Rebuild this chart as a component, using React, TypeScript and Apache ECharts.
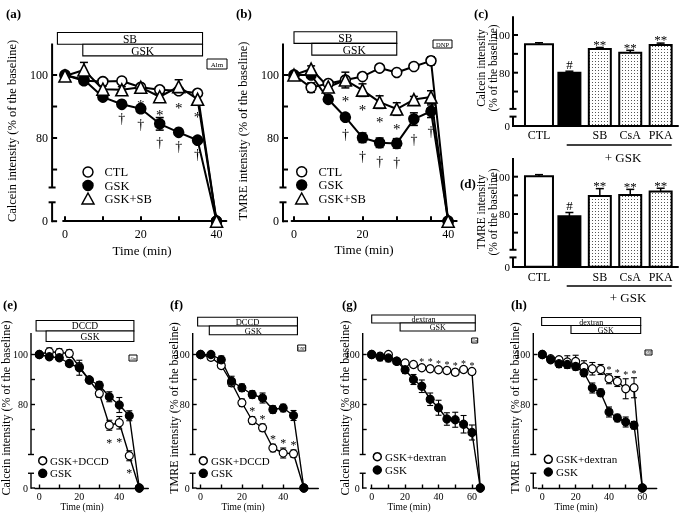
import { useEffect, useRef } from 'react';
import * as echarts from 'echarts';

const FONT = '"Liberation Serif", "Times New Roman", Times, serif';

// ---------- (a) calcein, SB ----------
const timeA = [0, 5, 10, 15, 20, 25, 30, 35, 40];
const ctlA = [100, 98.2, 97.9, 98.1, 96.1, 95.3, 95.0, 94.2, 0];
const ctlAErr = [0, 0.8, 0.8, 0.8, 0.8, 0.8, 0.8, 0.8, 0];
const gskA = [100, 98.5, 93.0, 90.7, 89.3, 84.5, 81.8, 79.3, 0];
const gskAErr = [0, 0.8, 0.8, 0.8, 1.2, 2.0, 0.8, 0.8, 0];
const gskSbA = [99.7, 101.6, 95.5, 95.3, 96.1, 93.1, 96.3, 92.3, 0];
const gskSbAErr = [0, 2.4, 1.0, 1.0, 1.0, 1.2, 2.2, 1.0, 0];
const starA = [20, 25, 30, 35];
const daggerA = [15, 20, 25, 30, 35];

// ---------- (b) TMRE, SB ----------
const timeB = [0, 5, 10, 15, 20, 25, 30, 35, 40, 45];
const ctlB = [100, 96.0, 97.3, 98.4, 99.5, 102.2, 100.8, 102.7, 104.5, 0];
const ctlBErr = [0, 1.5, 1.0, 1.0, 0.8, 1.0, 0.8, 0.8, 1.3, 0];
const gskB = [100, 100, 92.3, 86.6, 80.1, 78.5, 78.3, 86.0, 88.5, 0];
const gskBErr = [0, 0.8, 1.0, 1.0, 1.5, 1.5, 1.5, 2.0, 2.0, 0];
const gskSbB = [100, 101.9, 96.2, 98.4, 95.2, 91.4, 89.2, 92.2, 93.0, 0];
const gskSbBErr = [0, 1.0, 1.5, 2.5, 2.0, 2.0, 2.0, 1.0, 2.0, 0];
const starB = [15, 20, 25, 30];
const daggerB = [15, 20, 25, 30, 35, 40];

// ---------- (c), (d) bars ----------
const barCats = ['CTL', '', 'SB', 'CsA', 'PKA'];
const calceinBars = [95.1, 80.0, 92.6, 90.6, 94.7];
const calceinBarErr = [0.8, 0.8, 0.8, 1.3, 1.0];
const tmreBars = [100.3, 78.8, 89.6, 90.2, 92.0];
const tmreBarErr = [0.8, 2.0, 4.0, 3.0, 1.8];
const barMarks = ['', '#', '**', '**', '**'];

// ---------- (e) calcein, DCCD ----------
const timeE = [0, 5, 10, 15, 20, 25, 30, 35, 40, 45, 50];
const dccdE = [100, 101.1, 100.8, 100.4, 95.1, 89.8, 84.4, 71.7, 72.7, 59.5, 0];
const dccdEErr = [0, 1.5, 1.5, 1.5, 1.5, 1.0, 1.5, 2.0, 2.5, 2.0, 0];
const gskE = [100, 99.1, 98.7, 96.4, 94.7, 89.8, 87.7, 83.1, 79.8, 75.5, 0];
const gskEErr = [0, 1.0, 1.0, 0.8, 3.0, 1.0, 1.5, 2.0, 3.0, 2.0, 0];
const starE = [35, 40, 45];

// ---------- (f) TMRE, DCCD ----------
const timeF = [0, 5, 10, 15, 20, 25, 30, 35, 40, 45, 50];
const dccdF = [100, 98.9, 95.6, 88.7, 80.7, 73.6, 70.7, 62.6, 60.6, 60.3, 0];
const dccdFErr = [0, 0.8, 1.0, 1.5, 1.5, 1.5, 1.5, 1.5, 2.0, 1.5, 0];
const gskF = [100, 100, 97.9, 89.3, 86.7, 84.0, 82.6, 78.0, 78.6, 75.6, 0];
const gskFErr = [0, 0.8, 1.5, 2.0, 1.5, 1.5, 2.0, 1.5, 1.5, 2.0, 0];
const starF = [25, 30, 35, 40, 45];

// ---------- (g) calcein, dextran ----------
const timeG = [0, 5, 10, 15, 20, 25, 30, 35, 40, 45, 50, 55, 60, 65];
const dexG = [100, 99.3, 100, 97.3, 96.6, 96.0, 94.7, 94.3, 93.9, 93.6, 92.9, 94.0, 93.2, 0];
const dexGErr = [0, 0.8, 0.8, 0.8, 1.0, 1.0, 1.0, 1.2, 1.0, 1.0, 1.2, 1.0, 1.0, 0];
const gskG = [100, 99.0, 98.6, 97.3, 93.9, 90.0, 87.3, 82.1, 78.7, 74.2, 73.9, 72.1, 68.8, 0];
const gskGErr = [0, 1.5, 1.5, 1.0, 1.5, 2.0, 2.5, 2.5, 3.0, 2.5, 3.0, 3.5, 3.0, 0];
const starG = [30, 35, 40, 45, 50, 55, 60];

// ---------- (h) TMRE, dextran ----------
const timeH = [0, 5, 10, 15, 20, 25, 30, 35, 40, 45, 50, 55, 60];
const dexH = [100, 98.3, 97.9, 97.0, 97.2, 95.0, 94.3, 94.0, 90.3, 89.2, 86.3, 86.7, 0];
const dexHErr = [0, 0.8, 1.0, 2.5, 2.5, 2.5, 2.5, 2.0, 2.0, 2.0, 4.0, 4.0, 0];
const gskH = [100, 97.9, 96.3, 96.0, 95.2, 92.7, 86.6, 84.7, 77.0, 74.6, 73.0, 71.7, 0];
const gskHErr = [0, 1.0, 1.5, 1.5, 1.5, 1.5, 2.0, 1.5, 2.0, 1.5, 2.0, 1.5, 0];
const starH = [40, 45, 50, 55];

const disp = (v: number, zero: number) => (v === 0 ? zero : v);

function makeDots() {
  const c = document.createElement('canvas');
  c.width = 3;
  c.height = 3;
  const ctx = c.getContext('2d') as CanvasRenderingContext2D;
  ctx.fillStyle = '#fff';
  ctx.fillRect(0, 0, 3, 3);
  ctx.fillStyle = '#555';
  ctx.fillRect(1, 1, 1, 1);
  return { image: c.toDataURL(), repeat: 'repeat', imageWidth: 3, imageHeight: 3 };
}

function buildOption() {
  const grid: any[] = [];
  const xAxis: any[] = [];
  const yAxis: any[] = [];
  const series: any[] = [];
  const graphic: any[] = [];
  const dots = makeDots();

  const text = (x: number, y: number, t: string, size: number, o: any = {}) => ({
    type: 'text',
    x,
    y,
    rotation: o.rot || 0,
    silent: true,
    style: {
      text: t,
      fill: '#000',
      font: `${o.bold ? 'bold ' : ''}${size}px ${FONT}`,
      align: o.align || 'center',
      textAlign: o.align || 'center',
      verticalAlign: 'middle',
      textVerticalAlign: 'middle',
      lineHeight: o.lh || size,
    },
  });

  // broken y axis line with its ticks, drawn through the axis scale
  const axisDecor = (gi: number, p: any, lw: number, bw: number, tl: number) => ({
    type: 'custom',
    xAxisIndex: gi,
    yAxisIndex: gi,
    silent: true,
    clip: false,
    z: 6,
    itemStyle: { color: '#000' },
    data: [[p.xMin, p.yZero]],
    renderItem: (_q: any, api: any) => {
      const x = api.coord([p.xMin, p.yZero])[0] - p.yOffset;
      const y = (v: number) => api.coord([p.xMin, v])[1];
      const st = { stroke: '#000', lineWidth: lw, fill: null };
      const kids: any[] = [
        { type: 'line', shape: { x1: x, y1: y(p.yMax), x2: x, y2: y(p.breaks[0]) }, style: st },
        { type: 'line', shape: { x1: x - bw, y1: y(p.breaks[0]), x2: x + bw, y2: y(p.breaks[0]) }, style: st },
        { type: 'line', shape: { x1: x - bw, y1: y(p.breaks[1]), x2: x + bw, y2: y(p.breaks[1]) }, style: st },
        { type: 'line', shape: { x1: x, y1: y(p.breaks[1]), x2: x, y2: y(p.yZero) + lw / 2 }, style: st },
      ];
      p.yTicks.forEach((v: number) => {
        if (Math.abs(v - p.yZero) < 0.01 && p.yOffset === 0) return;
        kids.push({ type: 'line', shape: { x1: x, y1: y(v), x2: x + tl, y2: y(v) }, style: st });
      });
      return { type: 'group', children: kids };
    },
  });

  const addAxes = (p: any) => {
    const gi = grid.length;
    const lw = p.big ? 2 : 1.4;
    const tickFont = p.fontTick;
    grid.push({ left: p.grid[0], top: p.grid[1], width: p.grid[2], height: p.grid[3] });
    xAxis.push({
      type: 'value',
      gridIndex: gi,
      min: p.xMin,
      max: p.xMax,
      axisLine: { show: true, onZero: false, lineStyle: { color: '#000', width: lw } },
      axisTick: {
        show: !!p.xTicks,
        inside: true,
        length: p.big ? 5 : 3.5,
        lineStyle: { color: '#000', width: lw },
        customValues: p.xTicks || [],
      },
      axisLabel: {
        customValues: p.xLabels,
        formatter: p.xFmt || ((v: number) => String(v)),
        color: '#000',
        fontFamily: FONT,
        fontSize: p.fontXTick || tickFont,
        margin: p.xMargin,
      },
      splitLine: { show: false },
    });
    yAxis.push({
      type: 'value',
      gridIndex: gi,
      min: p.yZero,
      max: p.yMax,
      offset: p.yOffset,
      axisLine: { show: false },
      axisTick: { show: false },
      axisLabel: {
        customValues: p.yLabels,
        formatter: (v: number) => (Math.abs(v - p.yZero) < 0.01 ? '0' : String(Math.round(v))),
        color: '#000',
        fontFamily: FONT,
        fontSize: tickFont,
        margin: p.yMargin || (p.big ? 4 : 3),
      },
      splitLine: { show: false },
    });
    series.push(axisDecor(gi, p, lw, p.big ? 3.5 : 3, p.big ? 5 : 4));
    return gi;
  };

  const noteSeries = (gi: number, pts: number[][], t: string, dir: number, gap: number, size: number) => ({
    type: 'custom',
    xAxisIndex: gi,
    yAxisIndex: gi,
    silent: true,
    clip: false,
    z: 7,
    itemStyle: { color: '#000' },
    data: pts,
    renderItem: (_p: any, api: any) => {
      const x = api.value(0);
      const v = api.value(1);
      const e = api.value(2);
      const c = api.coord([x, dir > 0 ? v + e : v - e]);
      const shift = t.indexOf('*') >= 0 ? size * 0.22 : 0;
      return {
        type: 'group',
        children: [
          {
            type: 'text',
            x: c[0],
            y: c[1] - dir * gap + shift,
            style: {
              text: t,
              fill: '#000',
              font: `${size}px ${FONT}`,
              align: 'center',
              verticalAlign: 'middle',
            },
          },
        ],
      };
    },
  });

  const linePanel = (p: any) => {
    const gi = addAxes(p);
    const lw = p.big ? 2 : 1.4;
    const cap = p.big ? 4 : 3;
    // treatment boxes
    series.push({
      type: 'custom',
      xAxisIndex: gi,
      yAxisIndex: gi,
      silent: true,
      clip: false,
      z: 8,
      itemStyle: { color: '#000' },
      data: p.treatments.map((tr: any) => [tr.start, tr.end]),
      renderItem: (params: any, api: any) => {
        const x1 = api.coord([api.value(0), p.yMax])[0];
        const x2 = api.coord([api.value(1), p.yMax])[0];
        const y1 = p.boxTop + params.dataIndex * p.boxH;
        return {
          type: 'group',
          children: [
            {
              type: 'rect',
              shape: { x: x1, y: y1, width: x2 - x1, height: p.boxH },
              style: { fill: '#fff', stroke: '#000', lineWidth: 1.1 },
            },
            {
              type: 'text',
              x: (x1 + x2) / 2,
              y: y1 + p.boxH / 2 + 0.5,
              style: {
                text: p.treatments[params.dataIndex].label,
                fill: '#000',
                font: `${p.boxFont}px ${FONT}`,
                align: 'center',
                verticalAlign: 'middle',
              },
            },
          ],
        };
      },
    });
    // error bars
    p.curves.forEach((c: any) => {
      series.push({
        type: 'custom',
        xAxisIndex: gi,
        yAxisIndex: gi,
        silent: true,
        z: 2,
        itemStyle: { color: '#000' },
        data: p.times.map((t: number, i: number) => [t, disp(c.values[i], p.yZero), c.errors[i]]),
        renderItem: (_q: any, api: any) => {
          const t = api.value(0);
          const v = api.value(1);
          const e = api.value(2);
          if (!e) return null;
          const a = api.coord([t, v + e]);
          const b = api.coord([t, v - e]);
          const st = { stroke: '#000', lineWidth: p.big ? 1.5 : 1.1 };
          return {
            type: 'group',
            children: [
              { type: 'line', shape: { x1: a[0], y1: a[1], x2: b[0], y2: b[1] }, style: st },
              { type: 'line', shape: { x1: a[0] - cap, y1: a[1], x2: a[0] + cap, y2: a[1] }, style: st },
              { type: 'line', shape: { x1: b[0] - cap, y1: b[1], x2: b[0] + cap, y2: b[1] }, style: st },
            ],
          };
        },
      });
    });
    // curves
    p.curves.forEach((c: any) => {
      const tri = c.marker === 'triangle';
      series.push({
        type: 'line',
        name: c.name,
        xAxisIndex: gi,
        yAxisIndex: gi,
        silent: true,
        z: 3,
        showAllSymbol: true,
        data: p.times.map((t: number, i: number) => [t, disp(c.values[i], p.yZero)]),
        symbol: tri ? 'triangle' : 'circle',
        symbolSize: tri ? (p.big ? 12 : 9) : p.big ? 10 : 8,
        itemStyle: {
          color: c.marker === 'filled' ? '#000' : '#fff',
          borderColor: '#000',
          borderWidth: p.big ? 1.6 : 1.2,
        },
        lineStyle: { color: '#000', width: lw },
        emphasis: { disabled: true },
      });
    });
    // significance marks
    p.notes.forEach((n: any) => {
      const c = p.curves[n.curve];
      const pts = n.times.map((t: number) => {
        const i = p.times.indexOf(t);
        return [t, disp(c.values[i], p.yZero), c.errors[i]];
      });
      series.push(noteSeries(gi, pts, n.text, n.dir, n.gap, n.size));
    });
    // legend
    p.curves.forEach((c: any, k: number) => {
      const cx = p.legend.x;
      const cy = p.legend.ys[k];
      const r = p.big ? 5 : 4;
      if (c.marker === 'triangle') {
        graphic.push({
          type: 'polygon',
          silent: true,
          shape: { points: [[cx, cy - r - 1], [cx + r + 1, cy + r], [cx - r - 1, cy + r]] },
          style: { fill: '#fff', stroke: '#000', lineWidth: 1.5 },
        });
      } else {
        graphic.push({
          type: 'circle',
          silent: true,
          shape: { cx, cy, r },
          style: { fill: c.marker === 'filled' ? '#000' : '#fff', stroke: '#000', lineWidth: 1.5 },
        });
      }
      graphic.push(text(p.legend.textX, cy, c.name, p.legend.size, { align: 'left' }));
    });
    // reagent box
    const rb = p.reagent;
    graphic.push({
      type: 'rect',
      silent: true,
      shape: { x: rb.x, y: rb.y, width: rb.w, height: rb.h },
      style: { fill: '#fff', stroke: '#000', lineWidth: 1 },
    });
    graphic.push(text(rb.x + rb.w / 2, rb.y + rb.h / 2 + 0.5, rb.text, rb.size));
  };

  const barPanel = (p: any) => {
    const gi = addAxes(p);
    series.push({
      type: 'custom',
      xAxisIndex: gi,
      yAxisIndex: gi,
      silent: true,
      z: 3,
      itemStyle: { color: '#000' },
      data: p.values.map((v: number, i: number) => [i, v, p.errors[i]]),
      renderItem: (params: any, api: any) => {
        const i = api.value(0);
        const v = api.value(1);
        const e = api.value(2);
        const base = api.coord([i, p.yZero]);
        const top = api.coord([i, v]);
        const et = api.coord([i, v + e]);
        const w = params.dataIndex === 0 ? 28 : 22;
        const fill = params.dataIndex === 0 ? '#fff' : params.dataIndex === 1 ? '#000' : dots;
        return {
          type: 'group',
          children: [
            { type: 'line', shape: { x1: top[0], y1: top[1], x2: et[0], y2: et[1] }, style: { stroke: '#000', lineWidth: 1.5 } },
            { type: 'line', shape: { x1: et[0] - 4, y1: et[1], x2: et[0] + 4, y2: et[1] }, style: { stroke: '#000', lineWidth: 1.5 } },
            {
              type: 'rect',
              shape: { x: top[0] - w / 2, y: top[1], width: w, height: base[1] - top[1] },
              style: { fill, stroke: '#000', lineWidth: 2 },
            },
          ],
        };
      },
    });
    p.marks.forEach((m: string, i: number) => {
      if (!m) return;
      series.push(noteSeries(gi, [[i, p.values[i], p.errors[i]]], m, 1, m === '#' ? 7 : 6, 13));
    });
  };

  // ---------------- panels ----------------
  const bigCommon = {
    big: true,
    fontTick: 12,
    xMargin: 7,
    yMax: 110,
    yZero: 53.6,
    breaks: [64.3, 59.6],
    yTicks: [53.6, 70, 80, 90, 100],
    yLabels: [53.6, 80, 100],
    boxFont: 11.5,
  };
  linePanel({
    ...bigCommon,
    grid: [63.1, 43.5, 163.3, 177.7],
    xMin: -0.5,
    xMax: 42.6,
    yOffset: 11,
    xTicks: [0, 10, 20, 30, 40],
    xLabels: [0, 20, 40],
    times: timeA,
    curves: [
      { name: 'CTL', values: ctlA, errors: ctlAErr, marker: 'open' },
      { name: 'GSK', values: gskA, errors: gskAErr, marker: 'filled' },
      { name: 'GSK+SB', values: gskSbA, errors: gskSbAErr, marker: 'triangle' },
    ],
    notes: [
      { curve: 2, times: starA, text: '*', dir: -1, gap: 11, size: 15 },
      { curve: 1, times: daggerA, text: '†', dir: -1, gap: 12, size: 14 },
    ],
    treatments: [
      { label: 'SB', start: -2, end: 36.3 },
      { label: 'GSK', start: 4.7, end: 36.3 },
    ],
    boxTop: 32.5,
    boxH: 11.7,
    legend: { x: 88, ys: [172, 185.5, 199], textX: 104.5, size: 12.5 },
    reagent: { x: 207, y: 59, w: 20, h: 10, text: 'Alm', size: 7 },
  });
  linePanel({
    ...bigCommon,
    grid: [291.6, 43.5, 165.1, 177.7],
    xMin: -0.7,
    xMax: 47.5,
    yOffset: 8.6,
    xTicks: [0, 10, 20, 30, 40],
    xLabels: [0, 20, 45],
    xFmt: (v: number) => (v === 45 ? '40' : String(v)),
    times: timeB,
    curves: [
      { name: 'CTL', values: ctlB, errors: ctlBErr, marker: 'open' },
      { name: 'GSK', values: gskB, errors: gskBErr, marker: 'filled' },
      { name: 'GSK+SB', values: gskSbB, errors: gskSbBErr, marker: 'triangle' },
    ],
    notes: [
      { curve: 2, times: starB, text: '*', dir: -1, gap: 10, size: 15 },
      { curve: 1, times: daggerB, text: '†', dir: -1, gap: 14, size: 14 },
    ],
    treatments: [
      { label: 'SB', start: 0, end: 30 },
      { label: 'GSK', start: 5.2, end: 30 },
    ],
    boxTop: 31.7,
    boxH: 11.7,
    legend: { x: 301.7, ys: [171.7, 185, 199], textX: 318.5, size: 12.5 },
    reagent: { x: 433, y: 40, w: 19, h: 8, text: 'DNP', size: 6.5 },
  });

  const barCommon = {
    big: true,
    fontTick: 11,
    fontXTick: 12,
    yMargin: 3,
    xMargin: 3,
    xMin: -0.854,
    xMax: 4.57,
    yMax: 110,
    yZero: 51.7,
    breaks: [60.8, 56.7],
    yOffset: 0,
    yTicks: [70, 80, 90, 100],
    yLabels: [51.7, 80, 100],
    xTicks: null,
    xLabels: [0, 2, 3, 4],
    xFmt: (v: number) => barCats[Math.round(v)],
    marks: barMarks,
  };
  barPanel({ ...barCommon, grid: [513, 16.15, 165, 109.9], values: calceinBars, errors: calceinBarErr });
  barPanel({ ...barCommon, grid: [513, 158.05, 165, 108.7], xMargin: 4.5, values: tmreBars, errors: tmreBarErr });

  const smallCommon = {
    big: false,
    fontTick: 10,
    xMargin: 3,
    yMax: 108.6,
    yZero: 46.6,
    breaks: [60, 52.5],
    yTicks: [46.6, 70, 80, 90, 100],
    yLabels: [46.6, 80, 100],
  };
  linePanel({
    ...smallCommon,
    grid: [35, 333, 113.3, 155],
    xMin: -2.15,
    xMax: 54.5,
    yOffset: 4,
    xTicks: [0, 10, 20, 30, 40, 50],
    xLabels: [0, 20, 40],
    times: timeE,
    curves: [
      { name: 'GSK+DCCD', values: dccdE, errors: dccdEErr, marker: 'open' },
      { name: 'GSK', values: gskE, errors: gskEErr, marker: 'filled' },
    ],
    notes: [{ curve: 0, times: starE, text: '*', dir: -1, gap: 10, size: 12 }],
    treatments: [
      { label: 'DCCD', start: -1.6, end: 47.3 },
      { label: 'GSK', start: 3.4, end: 47.3 },
    ],
    boxTop: 320.5,
    boxH: 10.5,
    boxFont: 9.5,
    legend: { x: 42.7, ys: [460.7, 473.3], textX: 50, size: 11 },
    reagent: { x: 129, y: 355, w: 8, h: 6, text: 'Alm', size: 3.5 },
  });
  linePanel({
    ...smallCommon,
    grid: [196.7, 333, 121.6, 155],
    xMin: -1.9,
    xMax: 57,
    yOffset: 4,
    xTicks: [0, 10, 20, 30, 40, 50],
    xLabels: [0, 20, 40],
    times: timeF,
    curves: [
      { name: 'GSK+DCCD', values: dccdF, errors: dccdFErr, marker: 'open' },
      { name: 'GSK', values: gskF, errors: gskFErr, marker: 'filled' },
    ],
    notes: [{ curve: 0, times: starF, text: '*', dir: 1, gap: 8, size: 12 }],
    treatments: [
      { label: 'DCCD', start: -1.45, end: 46.9 },
      { label: 'GSK', start: 4.2, end: 46.9 },
    ],
    boxTop: 317.3,
    boxH: 8.7,
    boxFont: 8.5,
    legend: { x: 203.3, ys: [460.7, 473.3], textX: 211, size: 11 },
    reagent: { x: 297.7, y: 345, w: 8, h: 6, text: 'DNP', size: 3.5 },
  });
  linePanel({
    ...smallCommon,
    grid: [370.7, 333, 112.6, 155],
    xMin: -0.6,
    xMax: 66.8,
    yOffset: 8,
    xTicks: [0, 10, 20, 30, 40, 50, 60],
    xLabels: [0, 20, 40, 60],
    times: timeG,
    curves: [
      { name: 'GSK+dextran', values: dexG, errors: dexGErr, marker: 'open' },
      { name: 'GSK', values: gskG, errors: gskGErr, marker: 'filled' },
    ],
    notes: [{ curve: 0, times: starG, text: '*', dir: 1, gap: 6, size: 10 }],
    treatments: [
      { label: 'dextran', start: 0, end: 62 },
      { label: 'GSK', start: 17, end: 62 },
    ],
    boxTop: 315,
    boxH: 8,
    boxFont: 8,
    legend: { x: 377.3, ys: [456.7, 470], textX: 385, size: 11 },
    reagent: { x: 471.7, y: 338, w: 6, h: 5, text: 'Alm', size: 3 },
  });
  linePanel({
    ...smallCommon,
    grid: [538.3, 333, 118.4, 155],
    xMin: -2.4,
    xMax: 68.6,
    yOffset: 5,
    xTicks: [0, 10, 20, 30, 40, 50, 60],
    xLabels: [0, 20, 40, 60],
    times: timeH,
    curves: [
      { name: 'GSK+dextran', values: dexH, errors: dexHErr, marker: 'open' },
      { name: 'GSK', values: gskH, errors: gskHErr, marker: 'filled' },
    ],
    notes: [{ curve: 0, times: starH, text: '*', dir: 1, gap: 6, size: 10 }],
    treatments: [
      { label: 'dextran', start: -0.4, end: 59 },
      { label: 'GSK', start: 17.2, end: 59 },
    ],
    boxTop: 317.5,
    boxH: 8,
    boxFont: 8,
    legend: { x: 548.3, ys: [459.3, 472], textX: 556, size: 11 },
    reagent: { x: 645, y: 350, w: 7, h: 5, text: 'DNP', size: 3 },
  });

  // ---------------- free texts ----------------
  const R = Math.PI / 2;
  graphic.push(text(6, 13, '(a)', 13, { bold: true, align: 'left' }));
  graphic.push(text(236, 13, '(b)', 13, { bold: true, align: 'left' }));
  graphic.push(text(474, 13, '(c)', 13, { bold: true, align: 'left' }));
  graphic.push(text(460, 183, '(d)', 13, { bold: true, align: 'left' }));
  graphic.push(text(3, 304, '(e)', 13, { bold: true, align: 'left' }));
  graphic.push(text(170, 304, '(f)', 13, { bold: true, align: 'left' }));
  graphic.push(text(342, 304, '(g)', 13, { bold: true, align: 'left' }));
  graphic.push(text(511, 304, '(h)', 13, { bold: true, align: 'left' }));

  graphic.push(text(12, 131, 'Calcein intensity (% of the baseline)', 12.5, { rot: R }));
  graphic.push(text(243, 131, 'TMRE intensity (% of the baseline)', 12.5, { rot: R }));
  graphic.push(text(487, 68, 'Calcein intensity\n(% of the baseline)', 11.5, { rot: R, lh: 11.5 }));
  graphic.push(text(487, 212, 'TMRE intensity\n(% of the baseline)', 11.5, { rot: R, lh: 11.5 }));
  graphic.push(text(6, 408, 'Calcein intensity (% of the baseline)', 12, { rot: R }));
  graphic.push(text(174, 408, 'TMRE intensity (% of the baseline)', 12, { rot: R }));
  graphic.push(text(345, 408, 'Calcein intensity (% of the baseline)', 12, { rot: R }));
  graphic.push(text(515, 408, 'TMRE intensity (% of the baseline)', 12, { rot: R }));

  graphic.push(text(142, 250, 'Time (min)', 13));
  graphic.push(text(364, 249, 'Time (min)', 13));
  graphic.push(text(82, 507, 'Time (min)', 9.5));
  graphic.push(text(243, 507, 'Time (min)', 9.5));
  graphic.push(text(409, 507, 'Time (min)', 9.5));
  graphic.push(text(576, 507, 'Time (min)', 9.5));

  graphic.push({ type: 'line', silent: true, shape: { x1: 566.7, y1: 145, x2: 671.7, y2: 145 }, style: { stroke: '#000', lineWidth: 1.5 } });
  graphic.push(text(623, 157, '+ GSK', 13));
  graphic.push({ type: 'line', silent: true, shape: { x1: 566.7, y1: 286, x2: 671.7, y2: 286 }, style: { stroke: '#000', lineWidth: 1.5 } });
  graphic.push(text(628, 297.5, '+ GSK', 13));

  return {
    animation: false,
    backgroundColor: '#fff',
    color: ['#000'],
    textStyle: { fontFamily: FONT },
    grid,
    xAxis,
    yAxis,
    series,
    graphic: { elements: graphic },
  };
}

export default function App() {
  const ref = useRef<HTMLDivElement>(null);
  useEffect(() => {
    if (!ref.current) return;
    const chart = echarts.init(ref.current, undefined, { renderer: 'svg' });
    chart.setOption(buildOption() as any);
    return () => chart.dispose();
  }, []);
  return (
    <div
      ref={ref}
      style={{
        position: 'fixed',
        left: 0,
        top: 0,
        width: 685,
        height: 513,
        background: '#fff',
        filter: 'grayscale(1)',
      }}
    />
  );
}
